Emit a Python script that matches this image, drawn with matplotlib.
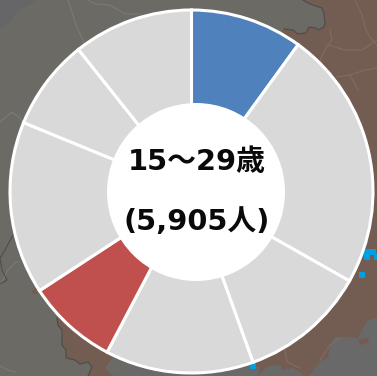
"""Age-group ring chart over a dim map background."""

import matplotlib
matplotlib.use("Agg")
import matplotlib.pyplot as plt
from matplotlib.patches import Circle, Polygon

WIDTH, HEIGHT = 377, 376
CENTER_X, CENTER_Y = 191.5, 191.5

# share of each ring segment, clockwise from the top (%)
shares = [10.0, 23.2, 11.3, 13.2, 8.1, 15.4, 8.1, 10.7]
colors = ["#4f81bd", "#d9d9d9", "#d9d9d9", "#d9d9d9",
          "#c0504d", "#d9d9d9", "#d9d9d9", "#d9d9d9"]
center_lines = ["15～29歳", "(5,905人)"]

# background map outlines, in reference pixels
brown_top = [(303, 0), (308, 3), (313, 5), (322, 8), (324, 14), (325, 22), (324, 27),
             (318, 30), (316, 28), (309, 27), (306, 33), (298, 34), (293, 30), (284, 29),
             (250, 60), (250, 330), (377, 376), (377, 0)]
brown_bottom = [(250, 330), (250, 376), (377, 376)]
brown_left = [(57, 318), (58, 325), (62, 330), (62, 345), (66, 350), (66, 358), (75, 360),
              (80, 364), (88, 362), (92, 367), (88, 376), (112, 376), (105, 368), (125, 340)]
brown_speck = [(32, 291), (35, 287), (41, 293), (33, 294)]
sea_topleft = [(0, 0), (35, 0), (30, 5), (22, 8), (14, 15), (10, 22), (3, 27), (0, 30)]
sea_bottom = [(112, 376), (125, 367), (260, 367), (258, 376)]
sea_right = [(377, 318), (368, 320), (363, 328), (358, 338), (345, 337), (335, 337),
             (330, 345), (328, 357), (320, 362), (312, 372), (308, 376), (377, 376)]
sea_mid = [(258, 376), (268, 366), (275, 365), (281, 366), (282, 370), (292, 368),
           (300, 372), (304, 376)]
brown_island = [(358, 340), (368, 338), (369, 343), (360, 345)]
gray_borders = [
    [(68, 0), (72, 12), (76, 25), (81, 36), (84, 42)],
    [(0, 122), (12, 112), (20, 118), (26, 125)],
    [(88, 0), (95, 4), (110, 5), (125, 14), (140, 14)],
    [(0, 285), (8, 270), (16, 262), (20, 262)],
    [(0, 366), (8, 370), (15, 372)],
]
dark_borders = [[(13, 235), (5, 250), (0, 258), (2, 270), (7, 280), (0, 284)]]
brown_borders = [
    [(355, 0), (362, 15), (366, 30), (372, 40), (377, 45)],
    [(330, 30), (332, 40), (328, 45), (345, 50), (362, 50), (377, 40)],
    [(328, 45), (322, 55), (320, 62)],
    [(350, 75), (365, 70), (377, 68)],
    [(336, 77), (350, 75), (358, 90)],
    [(320, 360), (330, 345), (340, 338)],
    [(285, 350), (287, 362), (300, 368)],
]
city_marks = [(362, 275), (367, 252), (373, 252), (367, 257), (377, 257), (253, 366)]

fig = plt.figure(figsize=(WIDTH / 100, HEIGHT / 100), dpi=100, facecolor="#6b6a65")

bg = fig.add_axes([0, 0, 1, 1])
for outline, color in ((sea_topleft, "#666669"), (brown_top, "#735c52"),
                       (brown_bottom, "#735c52"), (brown_left, "#735c52"),
                       (brown_speck, "#735c52"), (sea_bottom, "#69696a"),
                       (sea_right, "#69696a"), (sea_mid, "#69696a"),
                       (brown_island, "#735c52")):
    bg.add_patch(Polygon(outline, closed=True, facecolor=color, edgecolor="none"))
for line in gray_borders:
    bg.plot(*zip(*line), color="#7b7a75", linewidth=0.8)
for line in dark_borders:
    bg.plot(*zip(*line), color="#4f4e4c", linewidth=0.8)
for line in brown_borders:
    bg.plot(*zip(*line), color="#826b60", linewidth=0.8)
bg.plot(*zip(*brown_top[:14]), color="#504d4a", linewidth=0.9)
bg.plot(*zip(*brown_left[:11]), color="#504d4a", linewidth=0.9)
bg.scatter(*zip(*city_marks), marker="s", s=22, color="#00a0e0", linewidths=0)
bg.set_xlim(0, WIDTH)
bg.set_ylim(HEIGHT, 0)
bg.axis("off")

ax = fig.add_axes([0, 0, 1, 1])
ax.pie(shares, colors=colors, startangle=90, counterclock=False,
       radius=181.5, center=(CENTER_X, HEIGHT - CENTER_Y),
       wedgeprops=dict(width=100, edgecolor="white", linewidth=2.2))
# the hole in the reference sits a little right of the ring centre
ax.add_patch(Circle((196, HEIGHT - 192), 89, facecolor="white", edgecolor="none", zorder=3))
ax.set_xlim(0, WIDTH)
ax.set_ylim(0, HEIGHT)
ax.set_aspect("equal")
ax.axis("off")

for text, y in zip(center_lines, (162, 222)):
    ax.text(196.5, HEIGHT - y, text, ha="center", va="center", fontsize=20.8,
            fontweight="bold", color="#0a0a0a", zorder=4,
            family=["DejaVu Sans", "Noto Sans CJK JP"])

fig.savefig("out.png", dpi=100, facecolor=fig.get_facecolor())
